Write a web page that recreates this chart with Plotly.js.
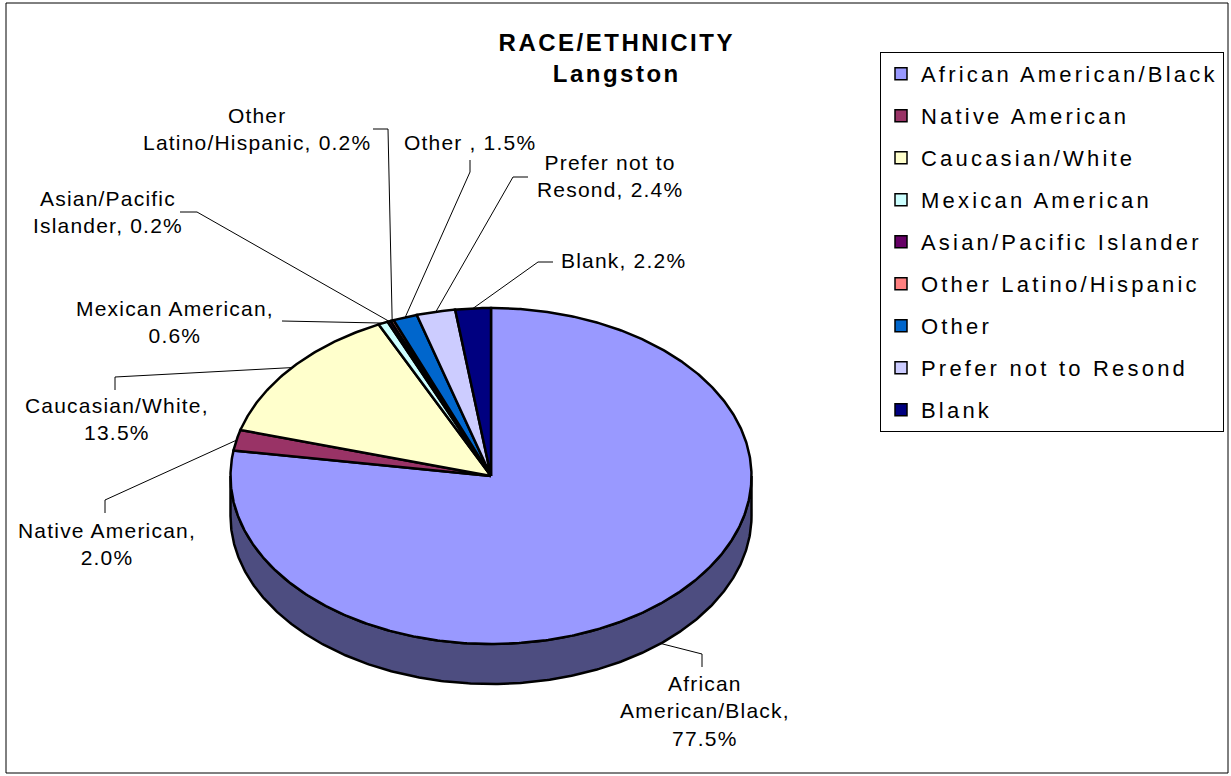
<!DOCTYPE html>
<html><head><meta charset="utf-8">
<script src="https://cdn.plot.ly/plotly-3.0.1.min.js"></script>
<style>
html,body{margin:0;padding:0;background:#fff;}
#chart{width:1231px;height:776px;}
.legendtext{letter-spacing:3.2px;}
.annotation-text{letter-spacing:1.2px;}
.gtitle{letter-spacing:2.5px;}
</style></head><body><div id="chart"></div>
<script>
// ---- data ----
const categories = ['African American/Black','Native American','Caucasian/White','Mexican American','Asian/Pacific Islander','Other Latino/Hispanic','Other','Prefer not to Resond','Blank'];
const values = [77.5, 2.0, 13.5, 0.6, 0.2, 0.2, 1.5, 2.4, 2.2];
const labelNames = ['African<br>American/Black,<br>','Native American,<br>','Caucasian/White,<br>','Mexican American,<br>','Asian/Pacific<br>Islander, ','Other<br>Latino/Hispanic, ','Other , ','Prefer not to<br>Resond, ','Blank, '];
const colors = ['#9999FF','#993366','#FFFFCC','#CCFFFF','#660066','#FF8080','#0066CC','#CCCCFF','#000080'];

// ---- layout constants (pixel space) ----
const CX = 491, CY = 476, RX = 260.5, RY = 168, DEPTH = 40;
const labelPos = [[705,711],[107,544],[117,419],[175,322],[108,212],[257,129],[470,142],[610,176],[623,260]];
const leaderPts = [
  [[702,667],[702,654]],
  [[105,513],[105,500]],
  [[115,390],[115,377]],
  [[282,321]],
  [[180,212],[197,212]],
  [[373,129],[388,129]],
  [[470,160],[470,172]],
  [[528,177],[513,177]],
  [[553,262],[538,262]]
];
const FONT = 'Liberation Sans, Arial, Helvetica, sans-serif';

function darken(hex){
  const n = parseInt(hex.slice(1),16);
  const r = Math.round(((n>>16)&255)*0.5), g = Math.round(((n>>8)&255)*0.5), b = Math.round((n&255)*0.5);
  return 'rgb('+r+','+g+','+b+')';
}
function pt(deg, dy){
  const t = deg*Math.PI/180;
  return [CX + RX*Math.sin(t), CY - RY*Math.cos(t) + (dy||0)];
}
function arc(s, e, dy){
  const n = Math.max(2, Math.ceil(Math.abs(e-s)/0.5));
  const out = [];
  for(let k=0;k<=n;k++){ out.push(pt(s + (e-s)*k/n, dy)); }
  return out;
}

const total = values.reduce((a,b)=>a+b,0);
const starts = [], ends = [];
let cum = 0;
values.forEach(v=>{ starts.push(cum/total*360); cum += v; ends.push(cum/total*360); });

const traces = [];
// sides (front half, 90..270 degrees)
values.forEach((v,i)=>{
  const s = Math.max(starts[i],90), e = Math.min(ends[i],270);
  if(s < e){
    const pts = arc(s,e,0).concat(arc(e,s,DEPTH));
    pts.push(pts[0]);
    traces.push({type:'scatter', mode:'lines', x:pts.map(p=>p[0]), y:pts.map(p=>p[1]),
      fill:'toself', fillcolor:darken(colors[i]), line:{color:'#000',width:2.5},
      showlegend:false, hoverinfo:'skip'});
  }
});
// top surfaces
values.forEach((v,i)=>{
  const pts = [[CX,CY]].concat(arc(starts[i],ends[i],0)); pts.push([CX,CY]);
  traces.push({type:'scatter', mode:'lines', x:pts.map(p=>p[0]), y:pts.map(p=>p[1]),
    fill:'toself', fillcolor:colors[i], line:{color:'#000',width:2.5},
    name:categories[i], showlegend:false, hoverinfo:'skip'});
});
// leader lines
values.forEach((v,i)=>{
  const mid = (starts[i]+ends[i])/2;
  const front = mid > 90 && mid < 270;
  const a = pt(mid, front ? DEPTH : 0);
  const pts = leaderPts[i].concat([a]);
  traces.push({type:'scatter', mode:'lines', x:pts.map(p=>p[0]), y:pts.map(p=>p[1]),
    line:{color:'#000',width:1}, showlegend:false, hoverinfo:'skip'});
});
// legend entries
categories.forEach((c,i)=>{
  traces.push({type:'scatter', mode:'markers', x:[null], y:[null], name:c, legendgroup:'g'+i,
    marker:{symbol:'square', size:12, color:colors[i], line:{color:'#000',width:1.5}}, showlegend:true});
});

const annotations = values.map((v,i)=>({
  xref:'x', yref:'y', x:labelPos[i][0], y:labelPos[i][1],
  text: labelNames[i] + v.toFixed(1) + '%', showarrow:false,
  xanchor:'center', yanchor:'middle', align:'center',
  font:{family:FONT, size:21, color:'#000'}
}));

const layout = {
  width:1231, height:776,
  margin:{l:0,r:0,t:0,b:0},
  paper_bgcolor:'#fff', plot_bgcolor:'#fff',
  title:{text:'<b>RACE/ETHNICITY</b><br><b>Langston</b>', font:{family:FONT, size:24, color:'#000'},
    x:0.501, xanchor:'center', xref:'paper', y:1-51/776, yref:'container', yanchor:'top'},
  xaxis:{range:[0,1231], visible:false, fixedrange:true},
  yaxis:{range:[776,0], visible:false, fixedrange:true},
  showlegend:true,
  legend:{x:880/1231, y:1-52/776, xanchor:'left', yanchor:'top', bordercolor:'#000', borderwidth:1,
    bgcolor:'#fff', font:{family:FONT, size:22, color:'#000'}, tracegroupgap:10.4, traceorder:'grouped',
    itemwidth:30},
  annotations: annotations,
  shapes:[{type:'rect', xref:'x', yref:'y', x0:6, y0:3, x1:1228, y1:773, line:{color:'#000', width:1}, fillcolor:'rgba(0,0,0,0)'}]
};

Plotly.newPlot('chart', traces, layout, {staticPlot:true, displayModeBar:false});
</script></body></html>
